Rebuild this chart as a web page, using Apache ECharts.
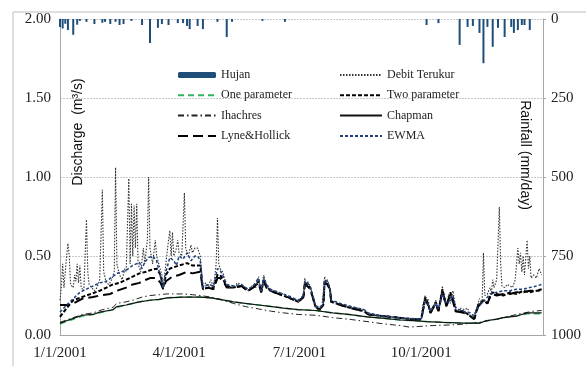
<!DOCTYPE html>
<html>
<head>
<meta charset="utf-8">
<script src="https://cdn.jsdelivr.net/npm/echarts@6/dist/echarts.min.js"></script>
<style>
html,body{margin:0;padding:0;background:#fff;}
#chart{width:586px;height:366px;}
</style>
</head>
<body>
<div id="chart"></div>
<script>
// x values are day-of-year (0 = 1/1/2001)
const xTickDays = [0, 90, 181, 273];
const xTickLabels = ['1/1/2001', '4/1/2001', '7/1/2001', '10/1/2001'];

// Rainfall (Hujan), mm/day
const rainDays = [0,2,4,6,10,13,15,20,26,32,34,38,42,45,48,54,62,68,74,77,82,89,93,96,98,104,108,119,126,130,153,170,277,286,302,308,312,317,320,323,327,331,336,341,343,346,349,351,355];
const rainMM   = [25,30,15,35,50,18,6,9,16,12,9,16,9,19,16,6,19,76,28,16,19,13,13,22,32,22,32,9,57,9,6,9,19,13,82,25,22,44,140,25,88,28,57,25,44,35,19,19,35];

// Debit Terukur (observed discharge), m3/s
const obsDays = [0,1,2,3,5,6,7,8,10,11,12,13,14,15,16,18,20,21,22,24,26,28,30,32,33,35,37,39,41,42,43,45,47,49,50,52,53,54,55,56,57,58,59,61,63,64,66,67,68,70,72,73,75,77,78,80,82,83,84,85,86,88,89,90,92,94,95,97,99,100,102,104,106,108,110,112,114,116,118,119,120,121,123,125,128,131,134,137,140,142,144,146,148,150,151,152,154,155,157,159,162,165,169,172,176,180,182,184,185,186,187,189,191,193,196,198,200,201,202,204,205,210,218,225,230,233,243,255,265,273,274,276,277,278,280,282,284,285,287,289,290,292,294,295,297,298,300,303,306,308,310,312,314,316,317,318,319,320,321,323,325,326,327,328,330,332,333,334,336,338,340,342,344,346,347,348,349,350,351,353,354,355,356,358,360,362,364];
const obsQ    = [0.22,0.30,0.45,0.30,0.50,0.58,0.50,0.32,0.30,0.38,0.34,0.45,0.33,0.44,0.30,0.28,0.73,0.40,0.32,0.30,0.28,0.30,0.35,0.92,0.40,0.33,0.32,0.35,0.40,1.06,0.45,0.38,0.35,0.42,0.40,0.99,0.45,0.83,0.50,0.82,0.55,0.83,0.45,0.40,0.55,0.45,0.60,1.00,0.55,0.45,0.60,0.50,0.44,0.38,0.30,0.45,0.60,0.66,0.50,0.65,0.50,0.55,0.60,0.52,0.50,0.90,0.55,0.50,0.57,0.52,0.55,0.55,0.50,0.30,0.33,0.31,0.35,0.30,0.45,0.74,0.45,0.42,0.40,0.33,0.30,0.30,0.33,0.32,0.30,0.28,0.30,0.32,0.30,0.37,0.30,0.27,0.38,0.33,0.30,0.28,0.28,0.27,0.26,0.24,0.23,0.22,0.22,0.26,0.36,0.30,0.34,0.31,0.25,0.18,0.16,0.18,0.37,0.33,0.35,0.30,0.22,0.20,0.18,0.17,0.16,0.13,0.12,0.11,0.10,0.10,0.18,0.25,0.20,0.23,0.15,0.18,0.22,0.16,0.18,0.31,0.22,0.20,0.26,0.20,0.28,0.22,0.15,0.17,0.16,0.17,0.12,0.11,0.15,0.20,0.23,0.22,0.20,0.52,0.25,0.26,0.30,0.27,0.35,0.30,0.35,0.81,0.45,0.31,0.30,0.32,0.31,0.30,0.35,0.55,0.45,0.52,0.40,0.50,0.38,0.60,0.42,0.50,0.36,0.38,0.36,0.42,0.38];

// EWMA
const ewmaDays = [0,5,10,15,20,30,35,40,43,50,55,60,62,64,67,70,73,75,78,80,83,86,88,90,93,96,99,102,104,106,108,112,116,119,121,124,126,131,137,142,146,150,152,154,156,159,165,172,180,184,185,187,189,191,193,196,199,200,202,204,205,212,220,230,233,243,255,265,273,276,278,280,284,286,289,292,295,297,299,305,310,313,316,320,325,330,335,340,345,350,355,360,364];
const ewmaQ    = [0.145,0.19,0.23,0.27,0.29,0.33,0.34,0.37,0.39,0.41,0.44,0.46,0.42,0.46,0.49,0.50,0.47,0.40,0.30,0.40,0.49,0.47,0.44,0.50,0.48,0.52,0.47,0.50,0.50,0.47,0.30,0.32,0.31,0.42,0.41,0.36,0.32,0.31,0.32,0.29,0.31,0.36,0.28,0.37,0.32,0.29,0.27,0.25,0.22,0.25,0.34,0.33,0.31,0.25,0.19,0.17,0.20,0.35,0.34,0.30,0.22,0.20,0.18,0.16,0.14,0.12,0.11,0.105,0.10,0.21,0.20,0.15,0.20,0.17,0.26,0.20,0.22,0.25,0.17,0.15,0.14,0.12,0.18,0.21,0.26,0.27,0.28,0.28,0.29,0.29,0.30,0.31,0.32];

// Two parameter
const twoDays = [0,5,10,20,30,40,45,55,60,65,68,73,76,78,80,83,90,96,100,106,108,112,116,119,121,124,126,131,137,142,146,150,152,154,156,159,165,172,180,184,185,187,189,191,193,196,199,200,202,204,205,212,220,230,233,243,255,265,273,276,278,280,284,286,289,292,295,297,299,305,310,313,316,320,323,325,327,330,335,340,345,350,355,360,364];
const twoQ    = [0.115,0.17,0.22,0.25,0.28,0.32,0.33,0.37,0.39,0.40,0.41,0.42,0.38,0.30,0.38,0.42,0.44,0.455,0.44,0.44,0.29,0.30,0.30,0.38,0.38,0.34,0.31,0.30,0.31,0.28,0.30,0.34,0.27,0.35,0.31,0.28,0.26,0.24,0.21,0.24,0.33,0.32,0.30,0.24,0.18,0.16,0.19,0.34,0.33,0.29,0.21,0.19,0.17,0.15,0.13,0.12,0.11,0.10,0.10,0.24,0.20,0.14,0.21,0.15,0.29,0.18,0.27,0.22,0.15,0.15,0.12,0.10,0.19,0.22,0.20,0.25,0.27,0.26,0.25,0.27,0.26,0.28,0.27,0.28,0.28];

// Lyne&Hollick
const lyneDays = [0,8,10,17,25,30,38,43,50,55,60,65,68,73,76,78,80,85,90,96,100,106,108,112,116,119,121,124,126,131,137,142,146,150,152,154,156,159,165,172,180,184,185,187,189,191,193,196,199,200,202,204,205,212,220,230,233,243,255,265,273,276,278,280,284,286,289,292,295,297,299,305,310,313,316,320,323,325,327,330,335,340,345,350,355,360,364];
const lyneQ    = [0.19,0.19,0.20,0.23,0.24,0.25,0.26,0.28,0.30,0.32,0.33,0.35,0.36,0.36,0.33,0.29,0.34,0.37,0.38,0.40,0.39,0.40,0.29,0.30,0.29,0.36,0.36,0.33,0.30,0.30,0.31,0.28,0.30,0.33,0.27,0.34,0.30,0.28,0.26,0.24,0.21,0.24,0.32,0.31,0.29,0.24,0.18,0.16,0.19,0.33,0.32,0.29,0.21,0.19,0.17,0.15,0.13,0.12,0.11,0.10,0.10,0.23,0.19,0.14,0.20,0.15,0.28,0.18,0.26,0.21,0.15,0.14,0.12,0.10,0.18,0.22,0.20,0.24,0.26,0.25,0.26,0.26,0.27,0.27,0.28,0.28,0.29];

// Chapman
const chapDays = [0,5,10,17,25,30,40,43,50,55,60,68,75,81,93,100,106,114,121,131,140,150,160,169,180,193,206,218,232,245,257,270,277,290,305,317,322,330,335,345,353,364];
const chapQ    = [0.075,0.09,0.105,0.125,0.13,0.145,0.16,0.18,0.19,0.20,0.21,0.22,0.225,0.235,0.24,0.24,0.24,0.235,0.225,0.21,0.20,0.19,0.18,0.17,0.16,0.155,0.14,0.13,0.115,0.105,0.095,0.09,0.085,0.08,0.075,0.075,0.09,0.10,0.11,0.12,0.14,0.14];

// One parameter
const oneDays = [0,5,10,17,25,30,40,43,50,55,60,68,75,81,93,106,114,121,131,140,150,160,169,180,193,206,218,232,245,257,270,277,290,305,317,322,330,335,345,353,364];
const oneQ    = [0.07,0.085,0.10,0.12,0.13,0.14,0.16,0.175,0.19,0.20,0.21,0.22,0.225,0.235,0.24,0.24,0.235,0.225,0.21,0.20,0.19,0.18,0.17,0.16,0.155,0.14,0.13,0.115,0.105,0.095,0.09,0.085,0.08,0.075,0.075,0.09,0.10,0.11,0.12,0.135,0.135];

// Ihachres
const ihaDays = [0,5,10,17,25,32,40,43,50,55,62,68,75,81,93,100,106,114,121,131,140,150,160,169,180,193,206,218,232,245,257,264,282,300,317,330,345,357,364];
const ihaQ    = [0.08,0.095,0.11,0.13,0.14,0.16,0.175,0.20,0.21,0.22,0.24,0.25,0.255,0.26,0.26,0.255,0.25,0.24,0.225,0.20,0.18,0.165,0.15,0.14,0.13,0.125,0.11,0.10,0.085,0.07,0.06,0.05,0.06,0.065,0.08,0.10,0.13,0.15,0.155];

const pairs = (d, v) => d.map((x, i) => [x, v[i]]);

const serif = 'Liberation Serif';
const lineSeries = (name, d, v, color, type, width, z) => ({
  name, type: 'line', data: pairs(d, v), symbol: 'none', showSymbol: false,
  lineStyle: { color, type, width }, itemStyle: { color }, z: z, animation: false
});

const chart = echarts.init(document.getElementById('chart'), null, { renderer: 'canvas' });
const lineItem = n => ({ name: n, itemStyle: { opacity: 0 } });

chart.setOption({
  animation: false,
  backgroundColor: '#fff',
  grid: { left: 60, right: 43, top: 19, bottom: 31, containLabel: false },
  legend: [
    {
      left: 172, top: 64, orient: 'vertical', itemWidth: 38, itemHeight: 6, itemGap: 8.3,
      textStyle: { fontFamily: serif, fontSize: 12, color: '#222' },
      data: [{ name: 'Hujan' }, lineItem('One parameter'), lineItem('Ihachres'), lineItem('Lyne&Hollick')]
    },
    {
      left: 334, top: 64, orient: 'vertical', itemWidth: 42, itemHeight: 6, itemGap: 8.3,
      textStyle: { fontFamily: serif, fontSize: 12, color: '#222' },
      data: [lineItem('Debit Terukur'), lineItem('Two parameter'), lineItem('Chapman'), lineItem('EWMA')]
    }
  ],
  xAxis: {
    type: 'value', min: 0, max: 365,
    axisLine: { lineStyle: { color: '#a6a6a6' } },
    axisTick: { show: false },
    splitLine: { show: false },
    axisLabel: {
      customValues: xTickDays,
      formatter: v => xTickLabels[xTickDays.indexOf(v)] || '',
      fontFamily: serif, fontSize: 15, color: '#222', margin: 11
    }
  },
  yAxis: [
    {
      type: 'value', min: 0, max: 2, interval: 0.5, position: 'left',
      axisLine: { show: true, lineStyle: { color: '#a6a6a6' } },
      axisTick: { show: false },
      splitLine: { show: true, lineStyle: { color: '#c8c8c8', type: [2, 1], width: 1 } },
      axisLabel: { formatter: v => v.toFixed(2), fontFamily: serif, fontSize: 15, color: '#222', margin: 9 }
    },
    {
      type: 'value', min: 0, max: 1000, interval: 250, position: 'right', inverse: true,
      axisLine: { show: true, lineStyle: { color: '#a6a6a6' } },
      axisTick: { show: true, length: 3, lineStyle: { color: '#a6a6a6' } },
      splitLine: { show: false },
      axisLabel: { formatter: v => String(v), fontFamily: serif, fontSize: 15, color: '#222', margin: 8 }
    }
  ],
  graphic: [
    { type: 'rect', shape: { x: 13, y: 12, width: 600, height: 400 }, style: { fill: 'none', stroke: '#bdbdbd', lineWidth: 1 }, z: -1, silent: true },
    { type: 'text', x: 78, y: 132, rotation: Math.PI / 2,
      style: { text: 'Discharge  (m³/s)', font: '14px "Liberation Sans"', fill: '#111', align: 'center', verticalAlign: 'middle' }, z: 100 },
    { type: 'text', x: 525, y: 155, rotation: -Math.PI / 2,
      style: { text: 'Rainfall (mm/day)', font: '14px "Liberation Sans"', fill: '#111', align: 'center', verticalAlign: 'middle' }, z: 100 }
  ],
  series: [
    { name: 'Hujan', type: 'bar', yAxisIndex: 1, data: pairs(rainDays, rainMM), barWidth: 2,
      itemStyle: { color: '#1f4e79' }, z: 2, animation: false },
    lineSeries('One parameter', oneDays, oneQ, '#2fb35c', [6, 4], 1.5, 3),
    lineSeries('Ihachres', ihaDays, ihaQ, '#222', [6, 3, 1.5, 3], 1, 3),
    lineSeries('Chapman', chapDays, chapQ, '#111', 'solid', 1.2, 4),
    lineSeries('Lyne&Hollick', lyneDays, lyneQ, '#000', [10, 5], 2, 4),
    lineSeries('Two parameter', twoDays, twoQ, '#000', [4, 2], 2, 5),
    lineSeries('Debit Terukur', obsDays, obsQ, '#333', [1.5, 1.5], 1.1, 6),
    lineSeries('EWMA', ewmaDays, ewmaQ, '#1f3f7f', [3, 2], 1.5, 7)
  ]
});
</script>
</body>
</html>
